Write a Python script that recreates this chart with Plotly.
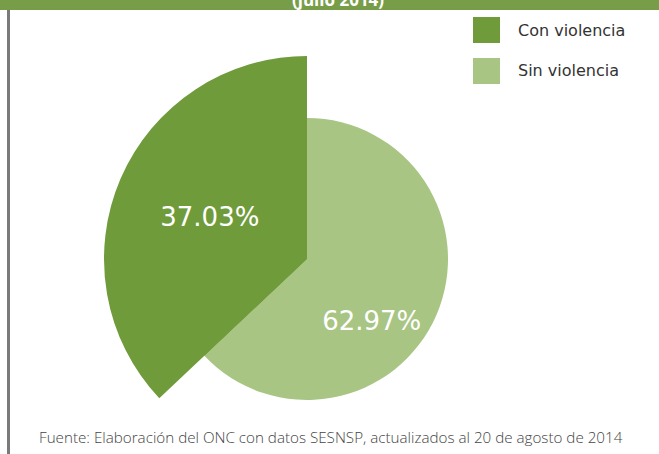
import plotly.graph_objects as go

# ---- data ----
labels = ["Con violencia", "Sin violencia"]
values = [37.03, 62.97]
pct_text = [f"{v:.2f}%" for v in values]
title_text = "(julio 2014)"
source_text = "Fuente: Elaboración del ONC con datos SESNSP, actualizados al 20 de agosto de 2014"

# ---- style ----
W, H = 659, 464
DARK = "#6F9B3B"
LIGHT = "#A8C584"
BAR = "#789D48"
CLEAR = "rgba(0,0,0,0)"
PCT_FONT = dict(family="DejaVu Sans", size=26, color="white")

def px_x(p):
    return p / W

def px_y(p):  # p measured from top
    return 1 - p / H

cx, cy = 307, 259
r_big, r_small = 203, 141

# pie order: light slice first (clockwise from 12 o'clock), dark slice ends at 12 o'clock
p_labels = labels[::-1]
p_values = values[::-1]

fig = go.Figure()

# smaller pie: light slice (dark slice below is covered by the larger pie)
# (blank lines above the label push it lower inside the slice, as in the original)
fig.add_trace(go.Pie(
    labels=p_labels, values=p_values, sort=False, direction="clockwise", rotation=0,
    marker=dict(colors=[LIGHT, DARK], line=dict(width=0)),
    text=["\u00a0<br>\u00a0<br>" + pct_text[1], ""], textinfo="text", textposition="inside",
    insidetextorientation="horizontal", textfont=PCT_FONT,
    domain=dict(x=[px_x(cx - r_small), px_x(cx + r_small)],
                y=[px_y(cy + r_small), px_y(cy - r_small)]),
    showlegend=False, hoverinfo="skip",
))

# larger pie: dark slice only
fig.add_trace(go.Pie(
    labels=p_labels, values=p_values, sort=False, direction="clockwise", rotation=0,
    marker=dict(colors=[CLEAR, DARK], line=dict(width=0)),
    text=["", pct_text[0]], textinfo="text", textposition="inside",
    insidetextorientation="horizontal", textfont=PCT_FONT,
    domain=dict(x=[px_x(cx - r_big), px_x(cx + r_big)],
                y=[px_y(cy + r_big), px_y(cy - r_big)]),
    showlegend=False, hoverinfo="skip",
))

shapes = [
    # header bar
    dict(type="rect", xref="paper", yref="paper", x0=0, x1=1, y0=px_y(10), y1=1.05,
         fillcolor=BAR, line=dict(width=0), layer="below"),
    # left border
    dict(type="line", xref="paper", yref="paper", x0=px_x(8.5), x1=px_x(8.5),
         y0=px_y(10), y1=0, line=dict(color="#7A7A7A", width=3)),
]
annotations = [
    dict(text=f"<b>{title_text}</b>", xref="paper", yref="paper", x=px_x(338), y=px_y(13.5),
         xanchor="center", yanchor="bottom", showarrow=False,
         font=dict(family="Open Sans", size=17, color="white")),
    dict(text=source_text, xref="paper", yref="paper", x=px_x(331), y=px_y(437),
         xanchor="center", yanchor="middle", showarrow=False,
         font=dict(family="Open Sans", size=15.2, color="#444444", weight=300)),
]
# legend (custom, large squares)
leg_colors = [DARK, LIGHT]
leg_y = [30, 71]
for lab, col, yy in zip(labels, leg_colors, leg_y):
    shapes.append(dict(type="rect", xref="paper", yref="paper",
                       x0=px_x(473), x1=px_x(500), y0=px_y(yy + 13), y1=px_y(yy - 13),
                       fillcolor=col, line=dict(width=0)))
    annotations.append(dict(text=lab, xref="paper", yref="paper", x=px_x(516), y=px_y(yy),
                            xanchor="left", yanchor="middle", showarrow=False,
                            font=dict(family="DejaVu Sans", size=16, color="#333333")))

fig.update_layout(
    width=W, height=H, margin=dict(l=0, r=0, t=0, b=0),
    paper_bgcolor="white", plot_bgcolor="white",
    shapes=shapes, annotations=annotations, showlegend=False,
)

fig.write_html("out.html", config={"displayModeBar": False},
               post_script="document.body.style.overflow='hidden';document.body.style.margin='0';")
